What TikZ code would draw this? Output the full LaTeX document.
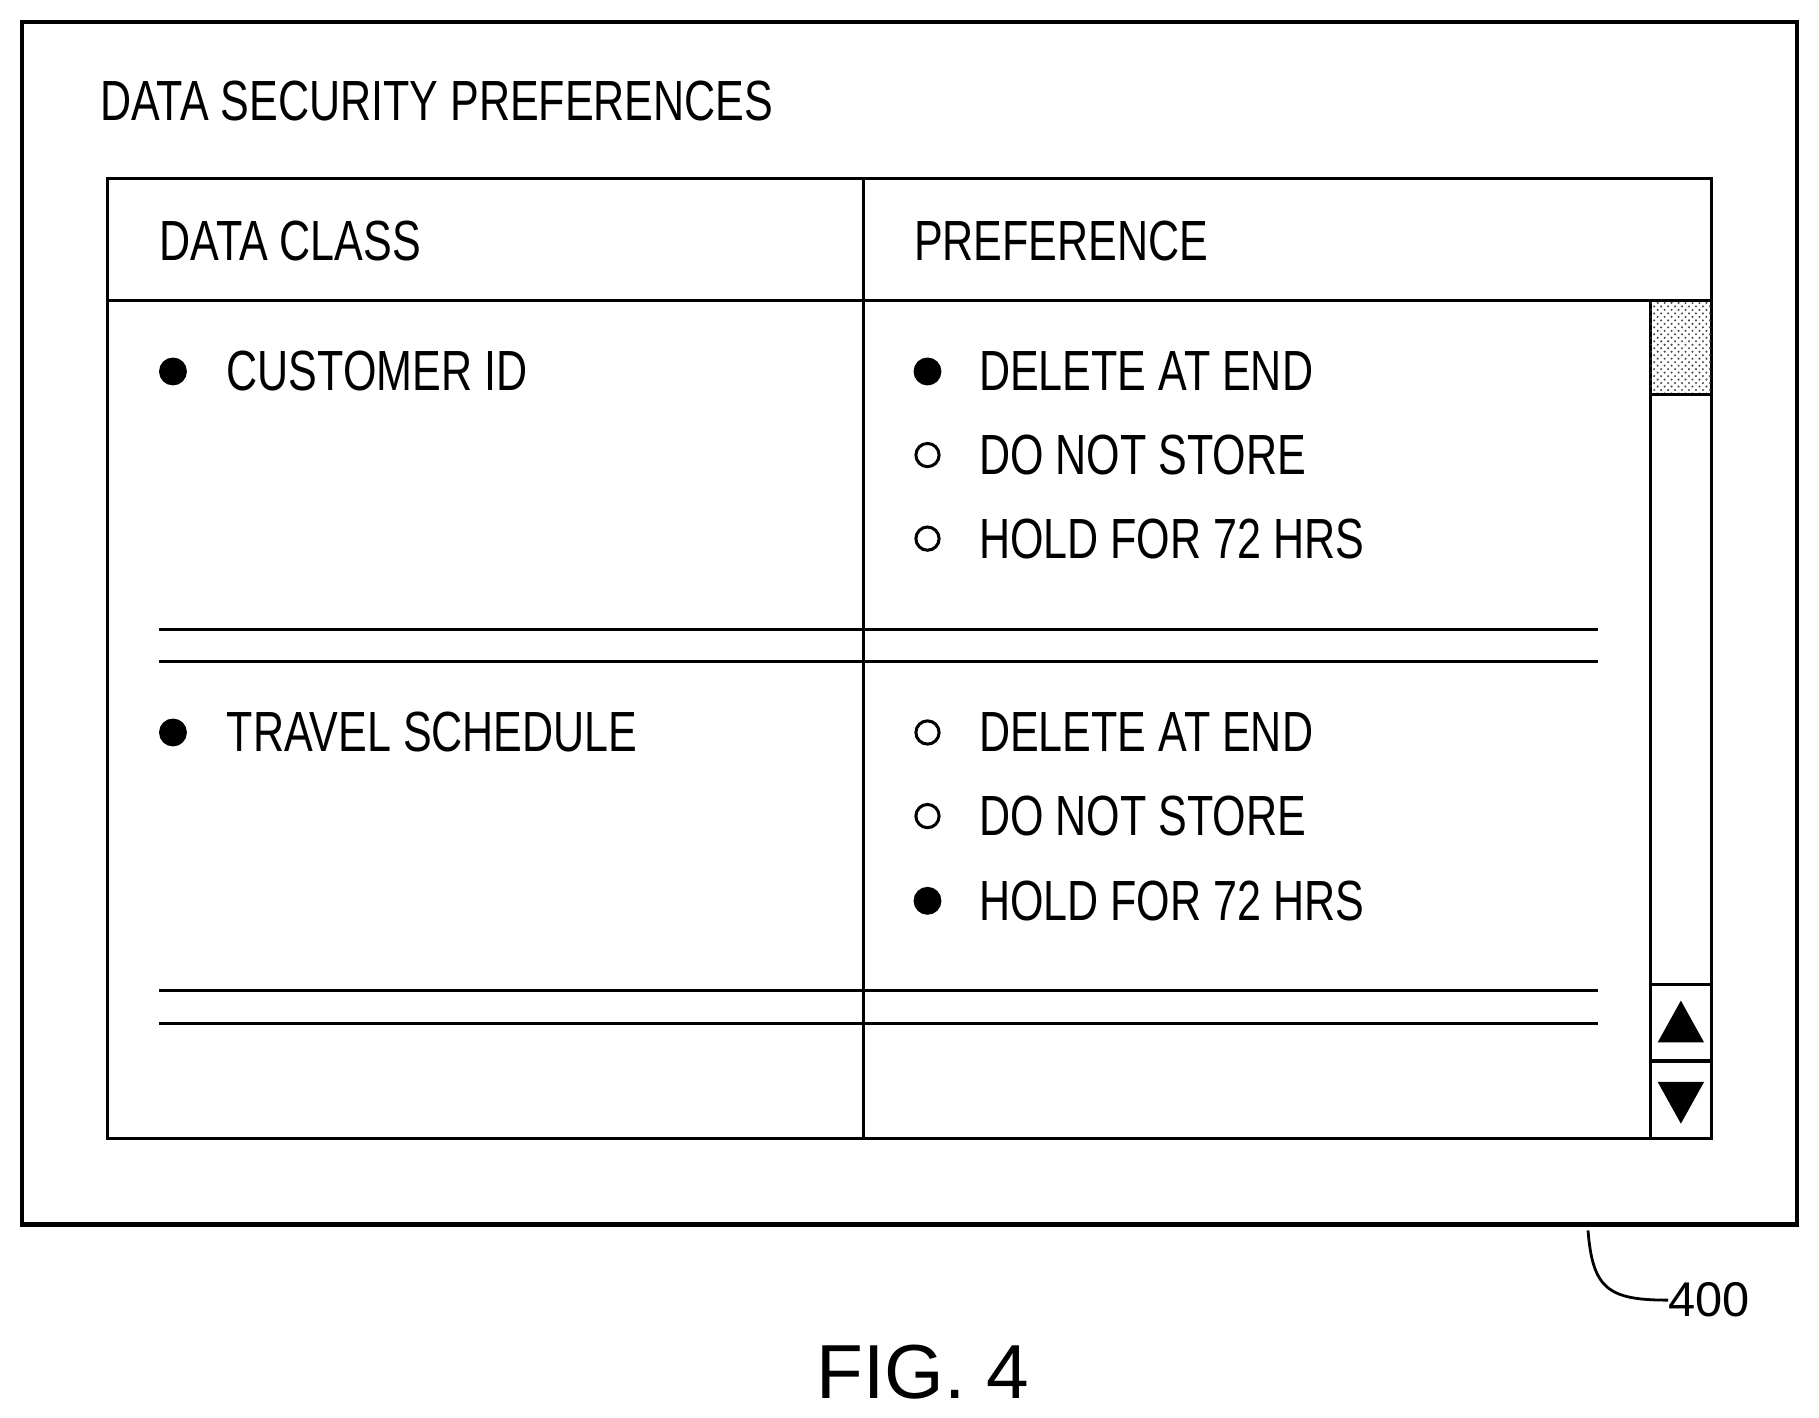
\documentclass[tikz,border=0pt]{standalone}
\usepackage{fontspec}
\setmainfont{Liberation Sans}
\newfontfamily\narrow[FakeStretch=0.76]{Liberation Sans}
\usetikzlibrary{patterns}
\begin{document}
\begin{tikzpicture}[x=0.5pt,y=-0.5pt,
  lbl/.style={anchor=west,inner sep=0pt,font=\narrow\fontsize{24.4}{26}\selectfont},
  on/.style={circle,fill=black,draw=black,line width=1pt,minimum size=11pt,inner sep=0pt},
  off/.style={circle,draw=black,line width=1.3pt,minimum size=10pt,inner sep=0pt},
  ln/.style={line width=1.3pt}]
\useasboundingbox (0,0) rectangle (1567,1221);
\draw[line width=2pt] (19,19) rectangle (1548,1055);
\node[lbl] (title) at (86,87) {DATA SECURITY PREFERENCES};
\draw[ln] (93,154) rectangle (1474,981);
\draw[ln] (744,154) -- (744,981);
\draw[ln] (93,259) -- (1474,259);
\node[lbl] (h1) at (137,208) {DATA CLASS};
\node[lbl] (h2) at (787,208) {PREFERENCE};
\node[on] (b1) at (149,320) {}; \node[lbl] (t1) at (195,320) {CUSTOMER ID};
\node[on] (b2) at (149,631) {}; \node[lbl] (t2) at (195,631) {TRAVEL SCHEDULE};
\node[on] (r1) at (799,320) {}; \node[lbl] at (843,320) {DELETE AT END};
\node[off] (r2) at (799,392) {}; \node[lbl] at (843,392) {DO NOT STORE};
\node[off] (r3) at (799,464) {}; \node[lbl] at (843,464) {HOLD FOR 72 HRS};
\node[off] (r4) at (799,631) {}; \node[lbl] at (843,631) {DELETE AT END};
\node[off] (r5) at (799,703) {}; \node[lbl] at (843,703) {DO NOT STORE};
\node[on] (r6) at (799,776) {}; \node[lbl] at (843,776) {HOLD FOR 72 HRS};
\foreach \y in {542,570,853,882} \draw[ln] (137,\y) -- (1377,\y);
% scrollbar
\draw[ln] (1422,259) -- (1422,981);
\fill[pattern=crosshatch dots,pattern color=black!70] (1422,259) rectangle (1474,340);
\draw[ln] (1422,340) -- (1474,340);
\draw[ln] (1422,848) -- (1474,848);
\draw[ln] (1422,914) -- (1474,914);
\fill (1448,862) -- (1468,898) -- (1428,898) -- cycle;
\fill (1448,968) -- (1468,932) -- (1428,932) -- cycle;
% label
\coordinate (lead) at (1368,1060);
\node[anchor=west,inner sep=0pt,font=\fontsize{21}{23}\selectfont] (n400) at (1437,1120) {400};
\draw[line width=1.2pt] (lead) .. controls (1372,1110) and (1385,1120) .. (n400.west);
\node[inner sep=0pt,font=\fontsize{33}{36}\selectfont] (fig) at (795,1182) {FIG. 4};
\end{tikzpicture}
\end{document}
